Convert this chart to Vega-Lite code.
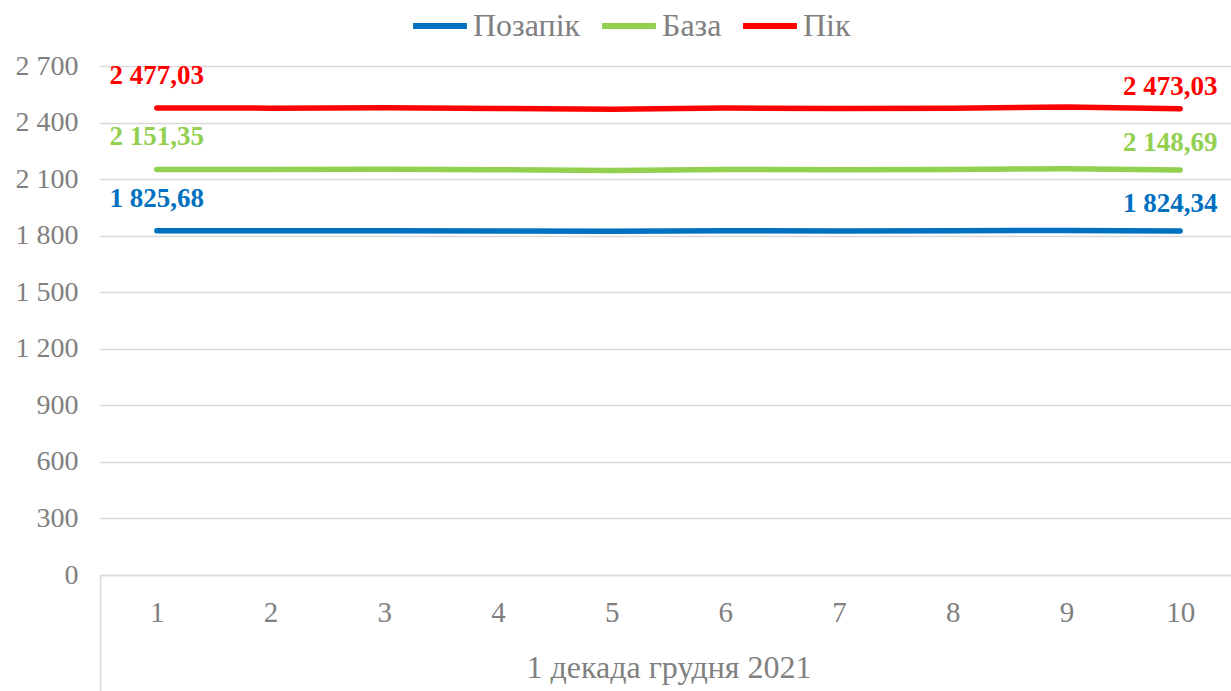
{
  "$schema": "https://vega.github.io/schema/vega-lite/v6.json",
  "autosize": {"type": "none"},
  "padding": {"left": 100, "top": 66, "right": 0, "bottom": 116},
  "width": 1137,
  "height": 509,
  "background": "white",
  "config": {
    "locale": {"number": {"decimal": ",", "thousands": " ", "grouping": [3], "currency": ["", ""]}},
    "view": {"stroke": null},
    "font": "Liberation Serif"
  },
  "data": {
    "values": [
      {"day": 1, "series": "Позапік", "value": 1825.68},
      {"day": 2, "series": "Позапік", "value": 1825.5},
      {"day": 3, "series": "Позапік", "value": 1826},
      {"day": 4, "series": "Позапік", "value": 1825},
      {"day": 5, "series": "Позапік", "value": 1823},
      {"day": 6, "series": "Позапік", "value": 1826},
      {"day": 7, "series": "Позапік", "value": 1824.5},
      {"day": 8, "series": "Позапік", "value": 1825.5},
      {"day": 9, "series": "Позапік", "value": 1828},
      {"day": 10, "series": "Позапік", "value": 1824.34},
      {"day": 1, "series": "База", "value": 2151.35},
      {"day": 2, "series": "База", "value": 2151},
      {"day": 3, "series": "База", "value": 2152.5},
      {"day": 4, "series": "База", "value": 2150},
      {"day": 5, "series": "База", "value": 2146},
      {"day": 6, "series": "База", "value": 2151.5},
      {"day": 7, "series": "База", "value": 2149},
      {"day": 8, "series": "База", "value": 2150.5},
      {"day": 9, "series": "База", "value": 2155},
      {"day": 10, "series": "База", "value": 2148.69},
      {"day": 1, "series": "Пік", "value": 2477.03},
      {"day": 2, "series": "Пік", "value": 2476.5},
      {"day": 3, "series": "Пік", "value": 2478.5},
      {"day": 4, "series": "Пік", "value": 2475},
      {"day": 5, "series": "Пік", "value": 2470},
      {"day": 6, "series": "Пік", "value": 2477},
      {"day": 7, "series": "Пік", "value": 2474.5},
      {"day": 8, "series": "Пік", "value": 2476},
      {"day": 9, "series": "Пік", "value": 2483},
      {"day": 10, "series": "Пік", "value": 2473.03}
    ]
  },
  "encoding": {
    "x": {
      "field": "day",
      "type": "quantitative",
      "scale": {"domain": [0.5, 10.5], "nice": false, "zero": false},
      "axis": {
        "values": [0.5, 1, 2, 3, 4, 5, 6, 7, 8, 9, 10],
        "labelExpr": "datum.value == 0.5 ? '' : datum.label",
        "grid": false,
        "domainColor": "#d9d9d9",
        "domainWidth": 1.5,
        "tickSize": 116,
        "tickWidth": 1.5,
        "tickColor": {"condition": {"test": "datum.value == 0.5", "value": "#d9d9d9"}, "value": "transparent"},
        "labelPadding": -93,
        "labelFont": "Liberation Serif",
        "labelFontSize": 29,
        "labelColor": "#808080",
        "labelFlush": false,
        "labelOverlap": false,
        "title": "1 декада грудня 2021",
        "titleFont": "Liberation Serif",
        "titleFontSize": 32,
        "titleFontWeight": "normal",
        "titleColor": "#808080",
        "titleY": 92,
        "titleBaseline": "middle"
      }
    },
    "y": {
      "field": "value",
      "type": "quantitative",
      "scale": {"domain": [0, 2700], "nice": false},
      "axis": {
        "values": [0, 300, 600, 900, 1200, 1500, 1800, 2100, 2400, 2700],
        "format": ",d",
        "domain": false,
        "ticks": false,
        "gridColor": "#d9d9d9",
        "gridWidth": 1.5,
        "labelPadding": 22,
        "labelFont": "Liberation Serif",
        "labelFontSize": 28,
        "labelColor": "#808080",
        "title": null
      }
    },
    "color": {
      "field": "series",
      "type": "nominal",
      "scale": {"domain": ["Позапік", "База", "Пік"], "range": ["#0070C0", "#92D050", "#FF0000"]},
      "legend": {
        "orient": "none",
        "direction": "horizontal",
        "legendX": 310,
        "legendY": -70,
        "title": null,
        "symbolType": "stroke",
        "symbolSize": 2900,
        "symbolStrokeWidth": 6,
        "labelFont": "Liberation Serif",
        "labelFontSize": 32,
        "labelColor": "#808080",
        "labelOffset": 3,
        "columnPadding": 9
      }
    }
  },
  "layer": [
    {
      "mark": {"type": "line", "strokeWidth": 5.5, "strokeCap": "round", "strokeJoin": "round"}
    },
    {
      "transform": [{"filter": "datum.day == 1"}],
      "mark": {"type": "text", "dy": -32, "fontWeight": "bold", "fontSize": 27, "font": "Liberation Serif", "baseline": "middle"},
      "encoding": {"text": {"field": "value", "type": "quantitative", "format": ",.2f"}}
    },
    {
      "transform": [{"filter": "datum.day == 10 && datum.series != 'Пік'"}],
      "mark": {"type": "text", "dy": -27, "dx": -10, "fontWeight": "bold", "fontSize": 27, "font": "Liberation Serif", "baseline": "middle"},
      "encoding": {"text": {"field": "value", "type": "quantitative", "format": ",.2f"}}
    },
    {
      "transform": [{"filter": "datum.day == 10 && datum.series == 'Пік'"}],
      "mark": {"type": "text", "dy": -22, "dx": -10, "fontWeight": "bold", "fontSize": 27, "font": "Liberation Serif", "baseline": "middle"},
      "encoding": {"text": {"field": "value", "type": "quantitative", "format": ",.2f"}}
    }
  ]
}
